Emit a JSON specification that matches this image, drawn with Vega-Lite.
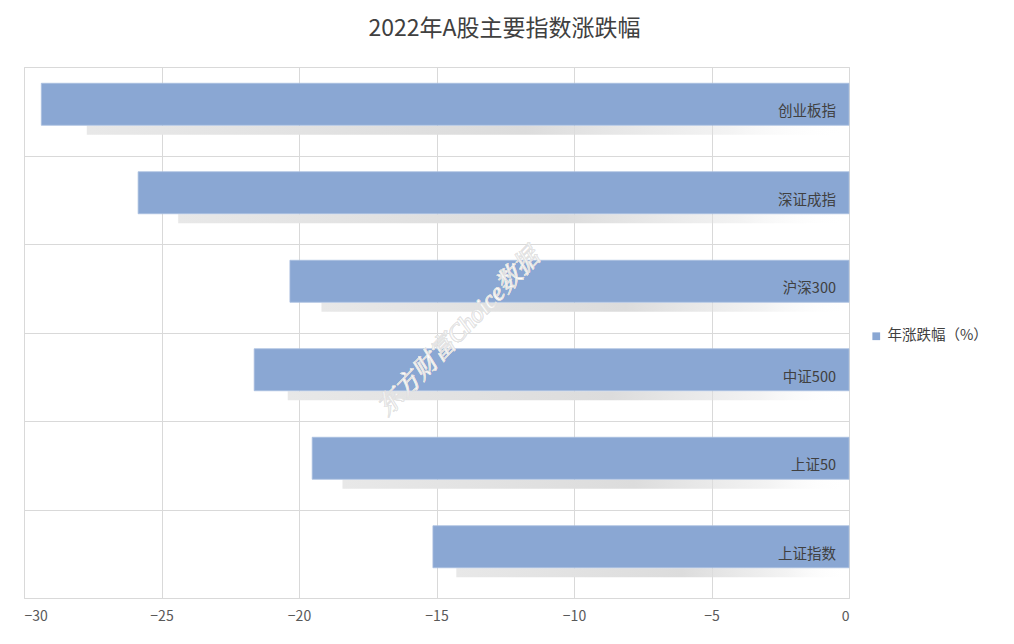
{
  "$schema": "https://vega.github.io/schema/vega-lite/v6.json",
  "width": 825,
  "height": 531,
  "autosize": {"type": "none"},
  "padding": {"left": 24, "top": 67, "right": 165, "bottom": 46},
  "background": "#ffffff",
  "config": {
    "font": "Noto Sans CJK SC",
    "view": {"stroke": "#d9d9d9", "strokeWidth": 1}
  },
  "title": {
    "text": "2022年A股主要指数涨跌幅",
    "fontSize": 23,
    "fontWeight": "normal",
    "color": "#404040",
    "font": "Noto Sans CJK SC",
    "anchor": "middle",
    "offset": 26,
    "dx": 68
  },
  "data": {
    "values": [
      {"name": "创业板指", "value": -29.37, "series": "年涨跌幅（%）"},
      {"name": "深证成指", "value": -25.85, "series": "年涨跌幅（%）"},
      {"name": "沪深300", "value": -20.33, "series": "年涨跌幅（%）"},
      {"name": "中证500", "value": -21.63, "series": "年涨跌幅（%）"},
      {"name": "上证50", "value": -19.52, "series": "年涨跌幅（%）"},
      {"name": "上证指数", "value": -15.13, "series": "年涨跌幅（%）"}
    ]
  },
  "encoding": {
    "y": {
      "field": "name",
      "type": "nominal",
      "sort": ["创业板指", "深证成指", "沪深300", "中证500", "上证50", "上证指数"],
      "scale": {"paddingInner": 0, "paddingOuter": 0},
      "axis": {
        "title": null,
        "labels": false,
        "ticks": false,
        "domain": false,
        "grid": true,
        "tickBand": "extent",
        "gridColor": "#d9d9d9",
        "gridWidth": 1
      }
    }
  },
  "layer": [
    {
      "mark": {
        "type": "bar",
        "size": 9,
        "yOffset": 19,
        "fill": {
          "gradient": "linear",
          "x1": 0, "y1": 0, "x2": 1, "y2": 0,
          "stops": [
            {"offset": 0, "color": "rgba(255,255,255,0)"},
            {"offset": 0.055, "color": "rgba(255,255,255,0)"},
            {"offset": 0.057, "color": "#e8e8e8"},
            {"offset": 0.6, "color": "#dcdcdc"},
            {"offset": 0.85, "color": "rgba(225,225,225,0.4)"},
            {"offset": 1, "color": "rgba(255,255,255,0)"}
          ]
        }
      },
      "encoding": {
        "x": {"field": "value", "type": "quantitative"}
      }
    },
    {
      "mark": {"type": "bar", "size": 42, "yOffset": -7, "stroke": "#a9bfe0", "strokeWidth": 0.8},
      "encoding": {
        "x": {
          "field": "value",
          "type": "quantitative",
          "scale": {"domain": [-30, 0], "nice": false},
          "axis": {
            "title": null,
            "values": [-30, -25, -20, -15, -10, -5, 0],
            "ticks": false,
            "domain": false,
            "grid": true,
            "gridColor": "#d9d9d9",
            "gridWidth": 1,
            "labelFontSize": 14,
            "labelColor": "#595959",
            "labelPadding": 11,
            "labelFont": "Noto Sans CJK SC"
          }
        },
        "color": {
          "field": "series",
          "type": "nominal",
          "scale": {"range": ["#8aa7d3"]},
          "legend": {
            "title": null,
            "orient": "none",
            "legendX": 845,
            "legendY": 262,
            "symbolType": "square",
            "symbolSize": 60,
            "symbolStrokeWidth": 0,
            "labelFontSize": 14.5,
            "labelColor": "#404040",
            "labelFont": "Noto Sans CJK SC"
          }
        }
      }
    },
    {
      "mark": {
        "type": "text",
        "align": "right",
        "baseline": "middle",
        "dx": -13,
        "dy": 1,
        "fontSize": 14.5,
        "color": "#404040",
        "font": "Noto Sans CJK SC"
      },
      "encoding": {
        "x": {"datum": 0, "type": "quantitative"},
        "text": {"field": "name"}
      }
    },
    {
      "mark": {
        "type": "text",
        "align": "center",
        "baseline": "middle",
        "angle": -46,
        "fontSize": 25,
        "fontStyle": "italic",
        "fontWeight": "normal",
        "font": "Liberation Serif, Noto Serif CJK SC, Noto Sans CJK SC",
        "fill": "#ffffff",
        "opacity": 0.7,
        "stroke": "#e0e0e0",
        "strokeWidth": 0.6,
        "yOffset": 44
      },
      "encoding": {
        "x": {"datum": -14.2, "type": "quantitative"},
        "y": {"datum": "沪深300", "type": "nominal"},
        "text": {"value": "东方财富Choice数据"}
      }
    }
  ]
}
